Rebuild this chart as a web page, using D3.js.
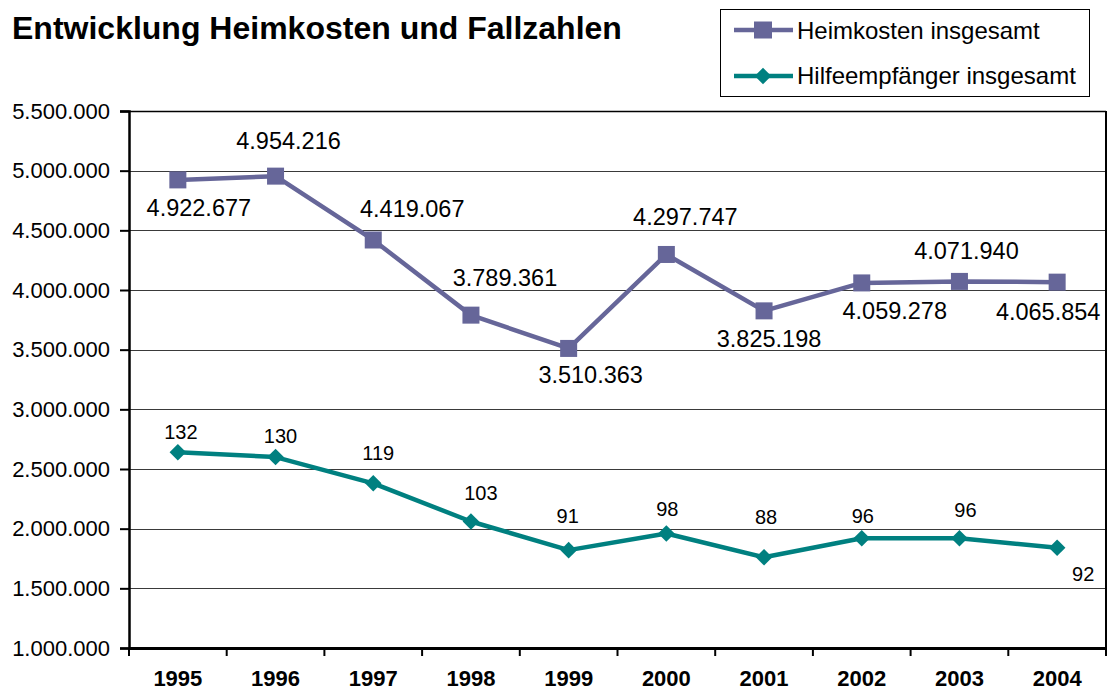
<!DOCTYPE html>
<html><head><meta charset="utf-8">
<script src="https://cdn.jsdelivr.net/npm/d3@7/dist/d3.min.js"></script>
<style>body{margin:0;background:#fff;font-family:"Liberation Sans",Arial,sans-serif;}</style>
</head><body><svg id="c" width="1113" height="692"></svg>
<script>
const years = ["1995","1996","1997","1998","1999","2000","2001","2002","2003","2004"];
const heimkosten = [4922677,4954216,4419067,3789361,3510363,4297747,3825198,4059278,4071940,4065854];
const hilfeempfaenger = [132,130,119,103,91,98,88,96,96,92];
const hilfeScale = 20000; // plotted on the cost axis as value * 20000
const yTicks = [1000000,1500000,2000000,2500000,3000000,3500000,4000000,4500000,5000000,5500000];
const seriesNames = ["Heimkosten insgesamt","Hilfeempfänger insgesamt"];
const colors = ["#666699","#008080"];
// label nudges (dx, dy of baseline from the marker), layout only
const heimLabelNudge = [[21,36],[13,-27],[39,-23],[34,-29],[22,35],[19,-29],[5,36],[33,36],[7,-22],[-9,38]];
const hilfeLabelNudge = [[3,-13],[5,-14],[5,-23],[10,-22],[-1,-27],[1,-17],[2,-33],[1,-15],[6,-21],[26,33]];

const svg = d3.select("#c");
const L=129, R=1106, T=111, B=648;
const x = d3.scaleBand().domain(years).range([L,R]);
const y = d3.scaleLinear().domain([1000000,5500000]).range([B,T]);
const fmt = v => d3.format(",")(v).replace(/,/g,".");
const FF = "Liberation Sans, Arial, sans-serif";

// gridlines
svg.append("g").selectAll("line").data(yTicks.slice(1,-1)).join("line")
  .attr("x1",L).attr("x2",R).attr("y1",d=>Math.round(y(d))+0.5).attr("y2",d=>Math.round(y(d))+0.5)
  .attr("stroke","#3a3a3a").attr("stroke-width",1.2);
// frame top/right
svg.append("line").attr("x1",L).attr("x2",R).attr("y1",T+0.5).attr("y2",T+0.5).attr("stroke","#000").attr("stroke-width",1.5);
svg.append("line").attr("x1",R).attr("x2",R).attr("y1",T).attr("y2",B).attr("stroke","#000").attr("stroke-width",2);

// y axis
const ya = svg.append("g").attr("transform",`translate(${L},0)`)
  .call(d3.axisLeft(y).tickValues(yTicks).tickFormat(fmt).tickSize(9).tickPadding(10));
ya.select(".domain").attr("stroke","#000").attr("stroke-width",2.5);
ya.selectAll(".tick line").attr("stroke","#000").attr("stroke-width",2);
ya.selectAll("text").attr("font-family",FF).attr("font-size",22).attr("fill","#000");

// x axis
const xa = svg.append("g").attr("transform",`translate(0,${B})`)
  .call(d3.axisBottom(x).tickSize(0).tickPadding(22));
xa.select(".domain").attr("stroke","#000").attr("stroke-width",3);
xa.selectAll("text").attr("font-family",FF).attr("font-size",22).attr("font-weight","bold").attr("fill","#000");
// category boundary ticks
const bounds = years.map(d=>x(d)).concat([R]);
svg.append("g").selectAll("line").data(bounds).join("line")
  .attr("x1",d=>d).attr("x2",d=>d).attr("y1",B).attr("y2",B+8).attr("stroke","#000").attr("stroke-width",2);

const cx = d => x(d)+x.bandwidth()/2;
const line = d3.line().x(d=>cx(d[0])).y(d=>y(d[1]));
const heimData = years.map((yr,i)=>[yr,heimkosten[i]]);
const hilfeData = years.map((yr,i)=>[yr,hilfeempfaenger[i]*hilfeScale,hilfeempfaenger[i]]);

// Heimkosten
svg.append("path").datum(heimData).attr("d",line).attr("fill","none").attr("stroke",colors[0]).attr("stroke-width",4.5).attr("stroke-linejoin","round");
svg.append("g").selectAll("rect").data(heimData).join("rect")
  .attr("x",d=>cx(d[0])-8.5).attr("y",d=>y(d[1])-8.5).attr("width",17).attr("height",17).attr("fill",colors[0]);
svg.append("g").selectAll("text").data(heimData).join("text")
  .attr("x",(d,i)=>cx(d[0]) + heimLabelNudge[i][0])
  .attr("y",(d,i)=>y(d[1]) + heimLabelNudge[i][1])
  .attr("text-anchor","middle").attr("font-family",FF).attr("font-size",23.5).attr("fill","#000")
  .text(d=>fmt(d[1]));

// Hilfeempfänger
svg.append("path").datum(hilfeData).attr("d",line).attr("fill","none").attr("stroke",colors[1]).attr("stroke-width",4.5).attr("stroke-linejoin","round");
const diamond = d3.symbol().type(d3.symbolDiamond2).size(175);
svg.append("g").selectAll("path").data(hilfeData).join("path")
  .attr("transform",d=>`translate(${cx(d[0])},${y(d[1])})`).attr("d",diamond).attr("fill",colors[1]);
svg.append("g").selectAll("text").data(hilfeData).join("text")
  .attr("x",(d,i)=>cx(d[0]) + hilfeLabelNudge[i][0])
  .attr("y",(d,i)=>y(d[1]) + hilfeLabelNudge[i][1])
  .attr("text-anchor","middle").attr("font-family",FF).attr("font-size",20).attr("fill","#000")
  .text(d=>d[2]);

// title
svg.append("text").attr("x",12).attr("y",39).attr("font-family",FF).attr("font-size",32).attr("font-weight","bold").attr("fill","#000")
  .text("Entwicklung Heimkosten und Fallzahlen");

// legend
const lg = svg.append("g");
lg.append("rect").attr("x",720.5).attr("y",9.5).attr("width",369).attr("height",87).attr("fill","#fff").attr("stroke","#000").attr("stroke-width",1);
const rows = [30,76];
seriesNames.forEach((n,i)=>{
  const ly = rows[i];
  lg.append("line").attr("x1",734).attr("x2",793).attr("y1",ly).attr("y2",ly).attr("stroke",colors[i]).attr("stroke-width",4.5);
  if(i===0) lg.append("rect").attr("x",754).attr("y",ly-8.5).attr("width",18).attr("height",17).attr("fill",colors[i]);
  else lg.append("path").attr("transform",`translate(763,${ly})`).attr("d",diamond()).attr("fill",colors[i]);
  lg.append("text").attr("x",797).attr("y",ly+(i===0?9:8)).attr("font-family",FF).attr("font-size",24).attr("fill","#000").text(n);
});
</script></body></html>
